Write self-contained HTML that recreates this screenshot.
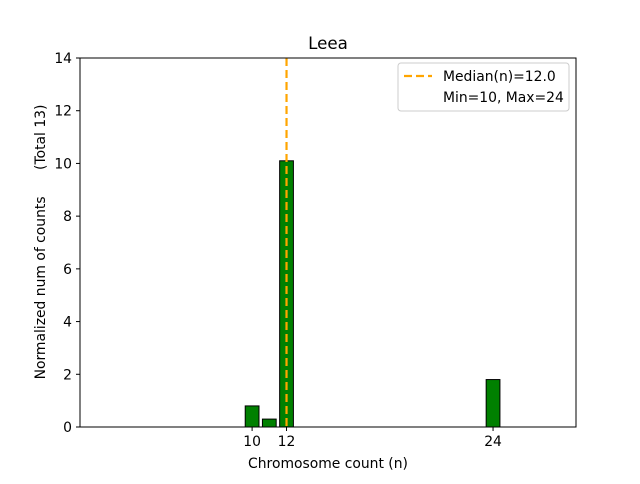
<!DOCTYPE html>
<html><head><meta charset="utf-8"><style>
body{margin:0;background:#fff;font-family:"DejaVu Sans",sans-serif}
</style></head><body>
<svg width="640" height="480" xmlns="http://www.w3.org/2000/svg" font-family="DejaVu Sans, sans-serif">
<rect width="640" height="480" fill="#fff"/>
<text x="328" y="49" font-size="16.7" text-anchor="middle">Leea</text>
<g id="bars"></g>
<g id="yticks"></g>
<g id="xticks"></g>
<line id="median" stroke="#ffa500" stroke-width="2.2" stroke-dasharray="8,4"/>
<rect x="80" y="58" width="496" height="369" fill="none" stroke="#000" stroke-width="1"/>
<text x="328" y="468" font-size="13.9" text-anchor="middle">Chromosome count (n)</text>
<text transform="translate(45,242) rotate(-90)" font-size="13.9" text-anchor="middle" style="white-space:pre" xml:space="preserve">Normalized num of counts      (Total 13)</text>
<g>
<rect x="398" y="63" width="171" height="48" rx="3" fill="#fff" stroke="#ccc"/>
<line x1="404" y1="76" x2="432" y2="76" stroke="#ffa500" stroke-width="2.2" stroke-dasharray="8,4"/>
<text x="443" y="81" font-size="13.9">Median(n)=12.0</text>
<text x="443" y="102" font-size="13.9">Min=10, Max=24</text>
</g>
</svg>
<script>
const categories=[10,11,12,24];
const values=[0.8,0.3,10.1,1.8];
const yTicks=[0,2,4,6,8,10,12,14];
const xTicks=[10,12,24];
const median=12;
const L=80,R=576,T=58,B=427,xMin=0,xMax=28.82,yMax=14;
const xs=v=>L+(v-xMin)/(xMax-xMin)*(R-L);
const ys=v=>B-v/yMax*(B-T);
const NS="http://www.w3.org/2000/svg";
const mk=(t,a,p)=>{const e=document.createElementNS(NS,t);for(const k in a)e.setAttribute(k,a[k]);p.appendChild(e);return e;};
const bars=document.getElementById('bars');
categories.forEach((c,i)=>{
 const w=xs(0.8)-xs(0);
 const r=mk('rect',{x:xs(c)-w/2,y:ys(values[i]),width:w,height:B-ys(values[i]),fill:'#008000',stroke:'#000','stroke-width':1},bars);
 
 
});
const yt=document.getElementById('yticks');
yTicks.forEach(v=>{
 mk('line',{x1:L-4,x2:L,y1:ys(v),y2:ys(v),stroke:'#000'},yt);
 const t=mk('text',{x:L-8,y:ys(v)+5,'font-size':13.9,'text-anchor':'end'},yt);t.textContent=v;
 
 
});
const xt=document.getElementById('xticks');
xTicks.forEach(v=>{
 mk('line',{x1:xs(v),x2:xs(v),y1:B,y2:B+4,stroke:'#000'},xt);
 const t=mk('text',{x:xs(v),y:B+19,'font-size':13.9,'text-anchor':'middle'},xt);t.textContent=v;
 
 
});
const m=document.getElementById('median');
m.setAttribute('x1',xs(median));m.setAttribute('x2',xs(median));m.setAttribute('y1',T);m.setAttribute('y2',B);
</script>
</body></html>
